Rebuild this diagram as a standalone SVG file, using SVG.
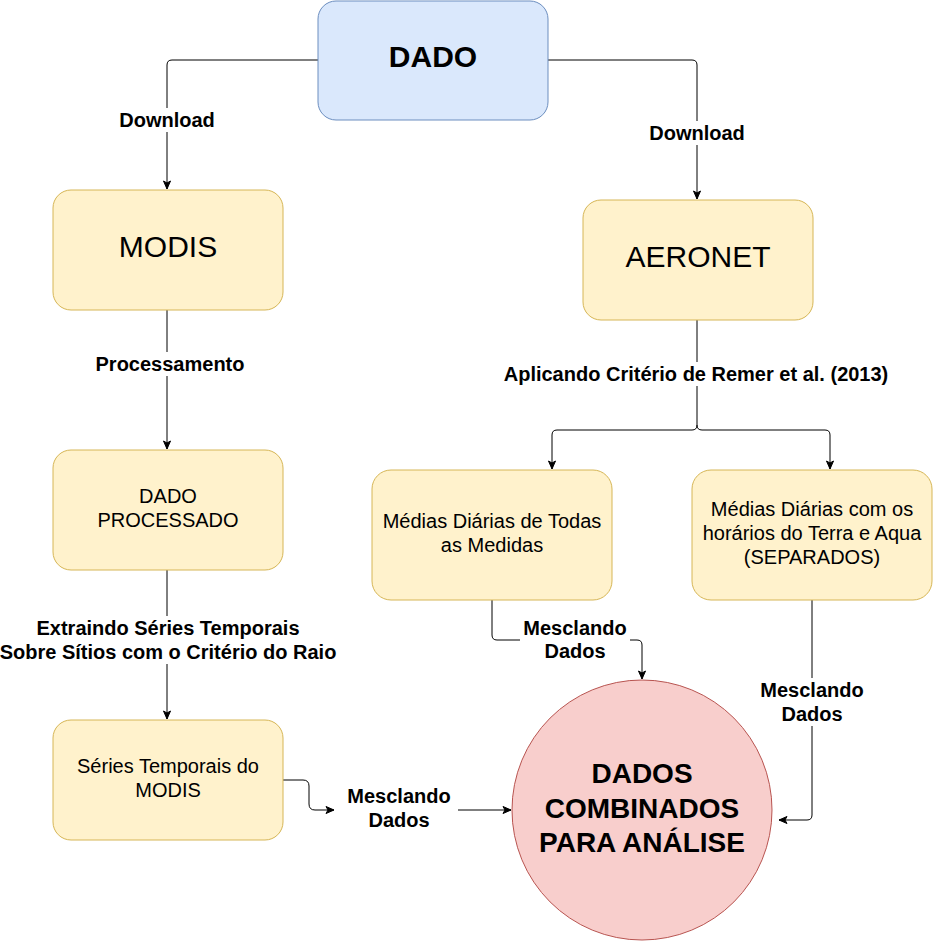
<svg xmlns="http://www.w3.org/2000/svg" width="934" height="942" viewBox="0 0 934 942">
<style>
.box{fill:#fff2cc;stroke:#d6b656;stroke-width:1}
.blue{fill:#dae8fc;stroke:#6c8ebf;stroke-width:1}
.circ{fill:#f8cecc;stroke:#b85450;stroke-width:1}
.edge{fill:none;stroke:#000;stroke-width:1}
.lbl{font-family:"Liberation Sans",Arial,sans-serif;font-size:20px;font-weight:bold;fill:#000;text-anchor:middle}
.t20{font-family:"Liberation Sans",Arial,sans-serif;font-size:20px;fill:#000;text-anchor:middle}
.t30{font-family:"Liberation Sans",Arial,sans-serif;font-size:30px;fill:#000;text-anchor:middle}
.bg{fill:#fff}
</style>
<defs>
<marker id="arr" markerUnits="userSpaceOnUse" markerWidth="10" markerHeight="10" refX="9" refY="4" orient="auto">
<path d="M1,0.5 L9,4 L1,7.5 L3,4 Z" fill="#000" stroke="#000" stroke-width="1"/>
</marker>
</defs>
<rect width="934" height="942" fill="#fff"/>
<g id="connectors">
<path class="edge" d="M318,60 H172 Q167,60 167,65 V189" marker-end="url(#arr)"/>
<path class="edge" d="M548,60 H692 Q697,60 697,65 V199" marker-end="url(#arr)"/>
<path class="edge" d="M167,310 V449" marker-end="url(#arr)"/>
<path class="edge" d="M697,320 V425 Q697,430 692,430 H557 Q552,430 552,435 V469" marker-end="url(#arr)"/>
<path class="edge" d="M697,425 Q697,430 702,430 H825 Q830,430 830,435 V469" marker-end="url(#arr)"/>
<path class="edge" d="M167,570 V719" marker-end="url(#arr)"/>
<path class="edge" d="M283,780 H303 Q309,780 309,786 V804 Q309,810 315,810 H334" marker-end="url(#arr)"/>
<path class="edge" d="M458,810 H511" marker-end="url(#arr)"/>
<path class="edge" d="M492,600 V635 Q492,640 497,640 H637 Q642,640 642,645 V679" marker-end="url(#arr)"/>
<path class="edge" d="M812,600 V815 Q812,820 807,820 H779" marker-end="url(#arr)"/>
<rect class="bg" x="118" y="108" width="98" height="24"/>
<text class="lbl" x="167" y="127">Download</text>
<rect class="bg" x="647" y="121" width="100" height="24"/>
<text class="lbl" x="697" y="140">Download</text>
<rect class="bg" x="95" y="352" width="150" height="24"/>
<text class="lbl" x="170" y="371">Processamento</text>
<rect class="bg" x="502" y="362" width="388" height="24"/>
<text class="lbl" x="696" y="381">Aplicando Critério de Remer et al. (2013)</text>
<rect class="bg" x="0" y="616" width="338" height="48"/>
<text class="lbl" x="168" y="635">Extraindo Séries Temporais</text>
<text class="lbl" x="168" y="659">Sobre Sítios com o Critério do Raio</text>
<rect class="bg" x="520" y="616" width="110" height="48"/>
<text class="lbl" x="575" y="635">Mesclando</text>
<text class="lbl" x="575" y="658">Dados</text>
<rect class="bg" x="757" y="678" width="110" height="48"/>
<text class="lbl" x="812" y="697">Mesclando</text>
<text class="lbl" x="812" y="721">Dados</text>
</g>
<g id="merge-label">
<text class="lbl" x="399" y="803">Mesclando</text>
<text class="lbl" x="399" y="827">Dados</text>
</g>
<g id="dado">
<rect class="blue" x="318" y="1" width="230" height="119" rx="18" ry="18"/>
<text class="t30" x="433" y="67" font-weight="bold">DADO</text>
</g>
<g id="modis">
<rect class="box" x="53" y="190" width="230" height="120" rx="18" ry="18"/>
<text class="t30" x="168" y="257">MODIS</text>
</g>
<g id="aeronet">
<rect class="box" x="583" y="200" width="230" height="120" rx="18" ry="18"/>
<text class="t30" x="698" y="267">AERONET</text>
</g>
<g id="dado-processado">
<rect class="box" x="53" y="450" width="230" height="120" rx="18" ry="18"/>
<text class="t20" x="168" y="503">DADO</text>
<text class="t20" x="168" y="527">PROCESSADO</text>
</g>
<g id="series-modis">
<rect class="box" x="53" y="720" width="230" height="120" rx="18" ry="18"/>
<text class="t20" x="168" y="773">Séries Temporais do</text>
<text class="t20" x="168" y="797">MODIS</text>
</g>
<g id="medias-todas">
<rect class="box" x="372" y="470" width="240" height="130" rx="19" ry="19"/>
<text class="t20" x="492" y="528">Médias Diárias de Todas</text>
<text class="t20" x="492" y="552">as Medidas</text>
</g>
<g id="medias-terra-aqua">
<rect class="box" x="692" y="470" width="240" height="130" rx="19" ry="19"/>
<text class="t20" x="812" y="516">Médias Diárias com os</text>
<text class="t20" x="812" y="540">horários do Terra e Aqua</text>
<text class="t20" x="812" y="564">(SEPARADOS)</text>
</g>
<g id="dados-combinados">
<circle class="circ" cx="642" cy="810" r="130"/>
<text class="t30" x="642" y="783" font-size="28" font-weight="bold" style="font-size:28px;font-weight:bold">DADOS</text>
<text class="t30" x="642" y="818" style="font-size:28px;font-weight:bold">COMBINADOS</text>
<text class="t30" x="642" y="852" style="font-size:28px;font-weight:bold">PARA ANÁLISE</text>
</g>
</svg>
